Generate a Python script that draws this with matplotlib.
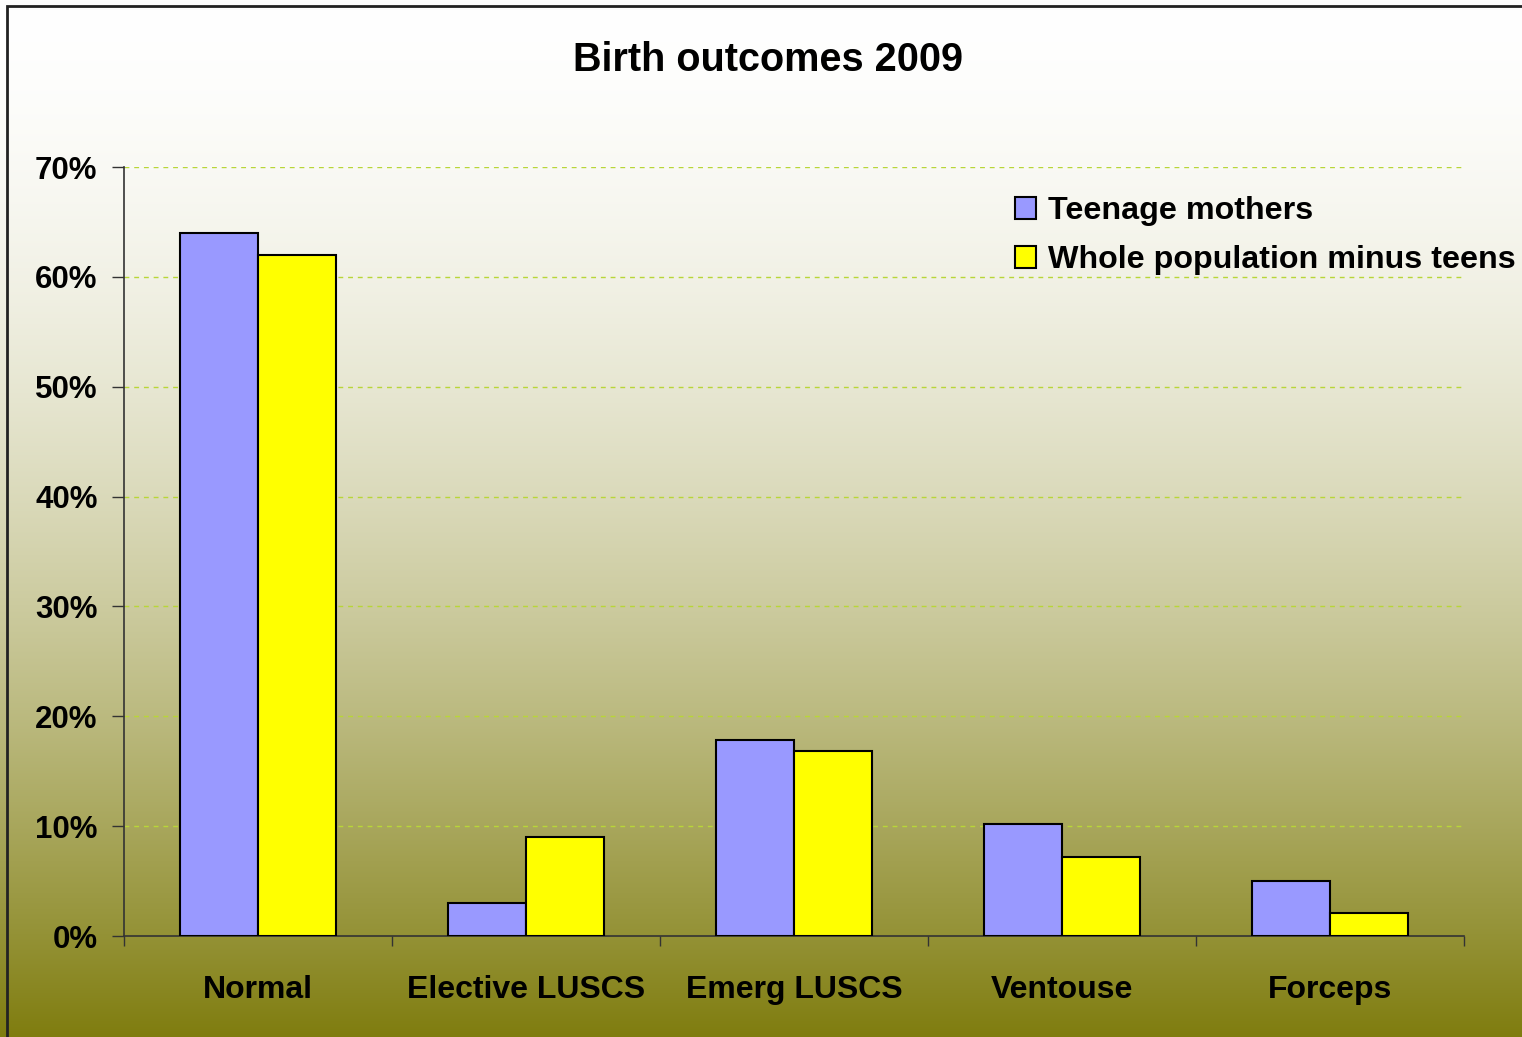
import matplotlib.pyplot as plt
import numpy as np
from matplotlib.patches import Rectangle

plt.rcParams['font.family'] = ['Liberation Sans', 'DejaVu Sans']
plt.rcParams['font.weight'] = 'bold'

# data
categories = ['Normal', 'Elective LUSCS', 'Emerg LUSCS', 'Ventouse', 'Forceps']
teenage = [0.64, 0.03, 0.178, 0.102, 0.05]
whole_pop = [0.62, 0.09, 0.168, 0.072, 0.021]
series_names = ['Teenage mothers', 'Whole population minus teens']
y_ticks = [0, 0.1, 0.2, 0.3, 0.4, 0.5, 0.6, 0.7]

fig = plt.figure(figsize=(15.22, 10.37), dpi=100)

# background gradient: white at top to olive at bottom
bg = fig.add_axes([0, 0, 1, 1], zorder=-10)
t = np.linspace(0, 1, 512) ** 1.7
top = np.array([1.0, 1.0, 1.0])
bottom = np.array([0.50, 0.49, 0.06])
grad = top[None, :] * (1 - t[:, None]) + bottom[None, :] * t[:, None]
bg.imshow(grad[:, None, :], aspect='auto', extent=[0, 1, 0, 1], origin='upper')
bg.set_xlim(0, 1)
bg.set_ylim(0, 1)
bg.axis('off')

# figure frame (left and top visible)
fig.patches.append(Rectangle((7 / 1522, -0.01), 1.1, 1 - 6 / 1037 + 0.01,
                             transform=fig.transFigure, fill=False,
                             edgecolor='#222222', linewidth=2, zorder=5))

ax = fig.add_axes([124 / 1522, 1 - 936 / 1037, 1340 / 1522, (936 - 167) / 1037])
ax.set_facecolor('none')

x = np.arange(len(categories))
w = 0.29
ax.bar(x - w / 2, teenage, w, color='#9999ff', edgecolor='black', linewidth=1.5,
       label=series_names[0], zorder=3)
ax.bar(x + w / 2, whole_pop, w, color='#ffff00', edgecolor='black', linewidth=1.5,
       label=series_names[1], zorder=3)

ax.set_xlim(-0.5, len(categories) - 0.5)
ax.set_ylim(0, 0.7)
ax.set_yticks(y_ticks)
ax.set_yticklabels(['%d%%' % round(v * 100) for v in y_ticks])
ax.tick_params(axis='y', length=9, width=1, pad=10, labelsize=22.5, color='#333333')

# category boundaries as major ticks, names on minor ticks
ax.set_xticks(np.arange(len(categories) + 1) - 0.5)
ax.set_xticklabels([])
ax.set_xticks(x, minor=True)
ax.set_xticklabels(categories, minor=True)
ax.tick_params(axis='x', which='major', length=7, width=1, color='#333333')
ax.tick_params(axis='x', which='minor', length=0, pad=28, labelsize=23)

for v in y_ticks[1:]:
    ax.axhline(v, color='#b8d638', linestyle=(0, (3.5, 3.5)), linewidth=1, zorder=1)

for s in ['top', 'right']:
    ax.spines[s].set_visible(False)
for s in ['left', 'bottom']:
    ax.spines[s].set_color('#333333')
    ax.spines[s].set_linewidth(1.2)

fig.text(768 / 1522, 1 - 60 / 1037, 'Birth outcomes 2009', ha='center', va='center',
         fontsize=28.5, fontweight='bold')

fig.legend(loc='upper left', bbox_to_anchor=(1015 / 1522, 1 - 196 / 1037),
           frameon=False, fontsize=23.2, handlelength=0.66, handleheight=0.66,
           handletextpad=0.36, labelspacing=0.6, borderpad=0, borderaxespad=0)

fig.savefig('out.png', dpi=100)
